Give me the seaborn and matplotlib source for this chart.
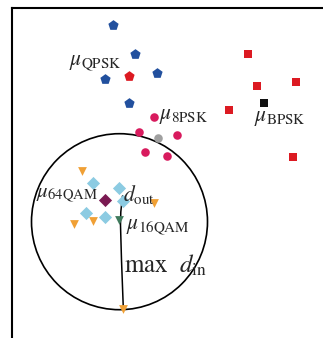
import matplotlib
matplotlib.use("Agg")
import matplotlib.pyplot as plt
from matplotlib.patches import Circle
import seaborn as sns

# point positions (read in picture pixel units)
qpsk_x = [112.7, 135.3, 157.3, 105.0, 128.7]
qpsk_y = [24.7, 54.0, 72.7, 79.3, 103.3]
qpsk_mean = ([128.7], [76.3])

bpsk_x = [247.7, 257.0, 295.7, 228.7, 293.3]
bpsk_y = [54.0, 86.3, 82.3, 109.7, 157.3]
bpsk_mean = ([263.7], [103.0])

psk8_x = [154.3, 139.3, 177.0, 144.7, 167.3]
psk8_y = [116.7, 132.0, 135.0, 152.3, 155.7]
psk8_mean = ([157.7], [137.7])

qam16_x = [81.7, 153.7, 74.3, 93.0, 123.3]
qam16_y = [170.7, 203.3, 224.0, 221.0, 309.3]
qam16_mean = ([118.7], [220.3])

qam64_x = [93.3, 119.3, 123.3, 85.7, 105.0]
qam64_y = [182.7, 188.0, 201.0, 212.7, 216.7]
qam64_mean = ([105.3], [200.3])

circle_center = (119.5, 221.7)
circle_radius = 88.0

sns.set_style("white")
plt.rcParams["mathtext.fontset"] = "stix"
plt.rcParams["font.family"] = ["Liberation Serif", "DejaVu Serif"]

fig = plt.figure(figsize=(3.23, 3.38), dpi=100)
ax = fig.add_axes([12 / 323, 0, 1 - 12 / 323, 1 - 8 / 338])

groups = [
    (qpsk_x, qpsk_y, "p", "#22509e", 60),
    (qpsk_mean[0], qpsk_mean[1], "p", "#dc1a22", 60),
    (bpsk_x, bpsk_y, "s", "#dc1a22", 38),
    (bpsk_mean[0], bpsk_mean[1], "s", "#111111", 38),
    (psk8_x, psk8_y, "o", "#d81b5e", 38),
    (psk8_mean[0], psk8_mean[1], "o", "#a0a0a0", 38),
    (qam16_x, qam16_y, "v", "#f0a035", 40),
    (qam16_mean[0], qam16_mean[1], "v", "#3f7a5c", 40),
    (qam64_x, qam64_y, "D", "#8ccbe2", 45),
    (qam64_mean[0], qam64_mean[1], "D", "#7a1a52", 45),
]
for xs, ys, m, c, s in groups:
    sns.scatterplot(x=xs, y=ys, marker=m, color=c, s=s, linewidth=0, ax=ax, zorder=3)

ax.add_patch(Circle(circle_center, circle_radius, fill=False, edgecolor="black", linewidth=1.2, zorder=2))
ax.plot([122.5, 120.8, 120.5, 121.5, 123.3], [196, 212, 225, 260, 308], color="black", linewidth=1.1, zorder=2)

ax.text(69, 62, r"$\mu_{\rm QPSK}$", fontsize=15.5, va="center", ha="left")
ax.text(159, 116, r"$\mu_{\rm 8PSK}$", fontsize=15.5, va="center", ha="left")
ax.text(254, 119, r"$\mu_{\rm BPSK}$", fontsize=15.5, va="center", ha="left")
ax.text(36, 194, r"$\mu_{\rm 64QAM}$", fontsize=15, va="center", ha="left")
ax.text(123, 194, r"$d_{\rm out}$", fontsize=15.5, va="center", ha="left")
ax.text(126, 226, r"$\mu_{\rm 16QAM}$", fontsize=15.5, va="center", ha="left")
ax.text(124, 265, r"$\max\ \ d_{\rm in}$", fontsize=18, va="center", ha="left")

ax.set_xlim(12, 323)
ax.set_ylim(338, 8)
ax.set_xticks([])
ax.set_yticks([])
for side in ["right", "bottom"]:
    ax.spines[side].set_visible(False)
for side in ["left", "top"]:
    ax.spines[side].set_color("black")
    ax.spines[side].set_linewidth(1.5)

fig.savefig("out.png", dpi=100)
